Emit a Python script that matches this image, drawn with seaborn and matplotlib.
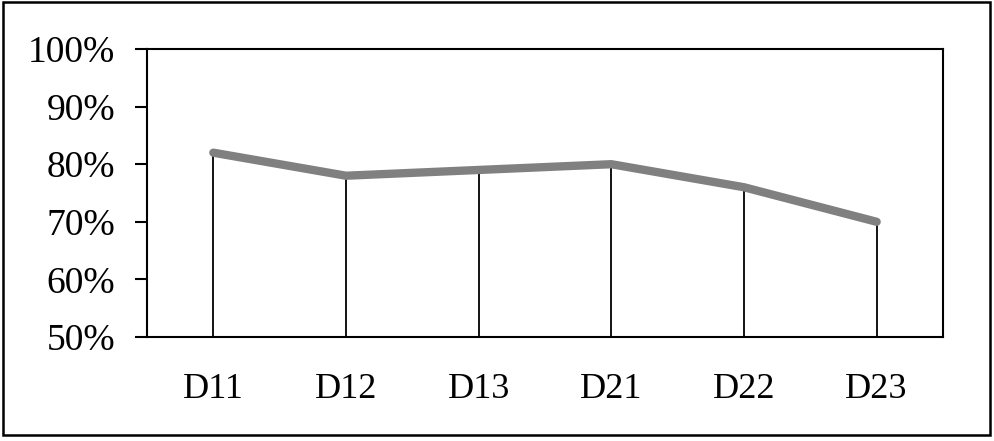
import matplotlib
matplotlib.use("Agg")
import matplotlib.pyplot as plt
import seaborn as sns
import pandas as pd

# data
groups = ["D11", "D12", "D13", "D21", "D22", "D23"]
rates = [82, 78, 79, 80, 76, 70]
y_ticks = [50, 60, 70, 80, 90, 100]

df = pd.DataFrame({"group": groups, "rate": rates})
df["pos"] = range(len(df))

sns.set_style("white", {"ytick.left": True, "ytick.color": "black",
                        "text.color": "black"})
plt.rcParams["font.family"] = ["Liberation Serif", "DejaVu Serif"]
plt.rcParams["ytick.major.size"] = 9
plt.rcParams["ytick.major.width"] = 1.5

fig = plt.figure(figsize=(9.95, 4.41), dpi=100)
ax = fig.add_axes([147 / 995, 104 / 441, 796 / 995, 288 / 441])

# drop lines from each point to the x axis
ax.vlines(df["pos"], 50, df["rate"], color="black", lw=1.3, zorder=2)

sns.lineplot(data=df, x="pos", y="rate", ax=ax, color="#808080", lw=6,
             solid_capstyle="round", solid_joinstyle="round", zorder=3)

ax.set_xlim(-0.5, len(groups) - 0.5)
ax.set_ylim(50, 100)
ax.set_xticks(df["pos"])
ax.set_xticklabels(groups, fontsize=26, color="black")
ax.set_yticks(y_ticks)
ax.set_yticklabels([f"{v}%" for v in y_ticks], fontsize=27, color="black")
ax.set_xlabel("")
ax.set_ylabel("")

for s in ax.spines.values():
    s.set_color("black")
    s.set_linewidth(1.5)

ax.tick_params(axis="y", direction="out", length=9, width=1.5, pad=14,
               left=True, color="black")
ax.tick_params(axis="x", length=0, pad=26)

# outer frame around the whole picture
fig.add_artist(plt.Rectangle((3 / 995, 6 / 441), 987 / 995, 433 / 441,
                             transform=fig.transFigure, fill=False,
                             edgecolor="black", lw=1.8))

fig.savefig("out.png", dpi=100)
